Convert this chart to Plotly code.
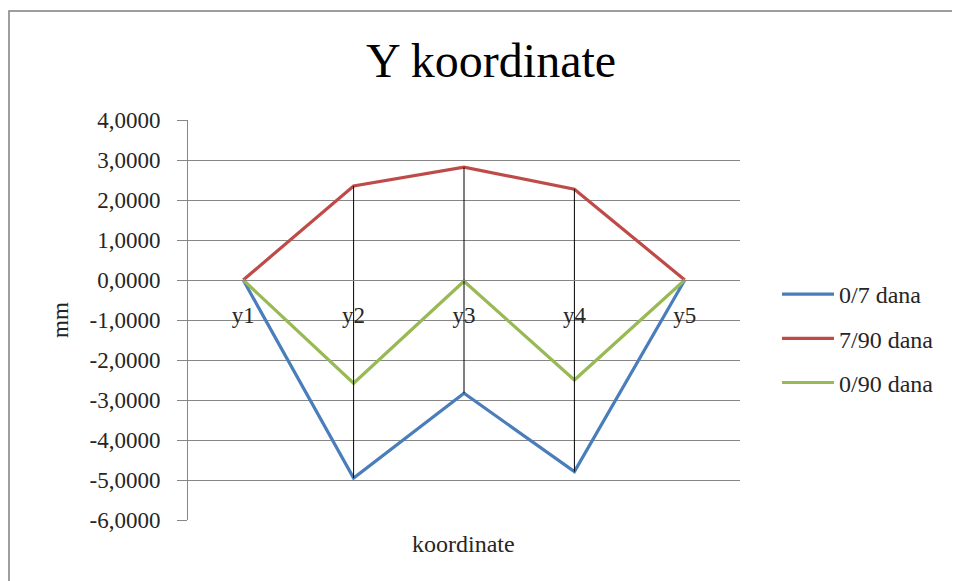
import plotly.graph_objects as go

categories = ["y1", "y2", "y3", "y4", "y5"]
series_names = ["0/7 dana", "7/90 dana", "0/90 dana"]
blue_vals = [0.0, -4.95, -2.83, -4.79, 0.0]
red_vals = [0.0, 2.35, 2.82, 2.27, 0.0]
green_vals = [0.0, -2.58, -0.03, -2.50, 0.0]
y_tickvals = [4, 3, 2, 1, 0, -1, -2, -3, -4, -5, -6]
y_ticktext = ["4,0000", "3,0000", "2,0000", "1,0000", "0,0000", "-1,0000",
              "-2,0000", "-3,0000", "-4,0000", "-5,0000", "-6,0000"]

FONT = "Liberation Serif"
TXT = "#262626"
colors = ["#4A7EBB", "#BE4B48", "#98B954"]

fig = go.Figure()

all_series = [blue_vals, red_vals, green_vals]

for name, vals, col in zip(series_names, all_series, colors):
    fig.add_trace(go.Scatter(x=categories, y=vals, mode="lines", name=name,
                             legendgroup=name,
                             line=dict(color=col, width=3.2)))

# high-low lines (from highest to lowest series value at each category)
for i, c in enumerate(categories):
    vals = [s[i] for s in all_series]
    hi, lo = max(vals), min(vals)
    if hi != lo:
        fig.add_trace(go.Scatter(x=[c, c], y=[hi, lo], mode="lines",
                                 line=dict(color="black", width=1),
                                 showlegend=False, hoverinfo="skip"))

OFF = 8  # page body margin
W, H = 960, 581
L, T = 188 - OFF, 120 - OFF
pw, ph = 552, 400
R = W - L - pw
B = H - T - ph

def sx(X):  # screen x -> paper x
    return (X - OFF - L) / pw

def sy(Y):  # screen y -> paper y
    return (T + ph - (Y - OFF)) / ph

fig.update_layout(
    width=W, height=H,
    margin=dict(l=L, r=R, t=T, b=B),
    paper_bgcolor="white", plot_bgcolor="white",
    font=dict(family=FONT, color=TXT, size=23),
    title=dict(text="Y koordinate", x=(491 - OFF) / W, xanchor="center",
               y=1 - (60 - OFF) / H, yanchor="middle",
               font=dict(family=FONT, size=48, color="black")),
    showlegend=True,
    legend=dict(x=sx(777), y=sy(272), xanchor="left", yanchor="top",
                font=dict(family=FONT, size=24, color=TXT),
                itemwidth=52, tracegroupgap=10, bgcolor="rgba(0,0,0,0)"),
    xaxis=dict(type="category", categoryorder="array", categoryarray=categories,
               range=[-0.5, 4.5], anchor="free", position=0.6,
               showline=True, linecolor="#868686", linewidth=1,
               showgrid=False, ticks="", ticklabelstandoff=14,
               tickfont=dict(family=FONT, size=23, color=TXT)),
    yaxis=dict(range=[-6, 4], tickvals=y_tickvals, ticktext=y_ticktext,
               showgrid=True, gridcolor="#868686", gridwidth=1,
               showline=True, linecolor="#868686", linewidth=1,
               ticks="outside", ticklen=10, tickcolor="#868686",
               ticklabelstandoff=12, zeroline=False,
               tickfont=dict(family=FONT, size=23, color=TXT)),
    shapes=[dict(type="rect", xref="paper", yref="paper",
                 x0=sx(9), x1=sx(975), y0=sy(600), y1=sy(11),
                 line=dict(color="#7F7F7F", width=1.5), layer="below")],
    annotations=[
        dict(text="koordinate", xref="paper", yref="paper",
             x=sx(463), y=sy(544), xanchor="center", yanchor="middle",
             showarrow=False, font=dict(family=FONT, size=24, color=TXT)),
        dict(text="mm", xref="paper", yref="paper", textangle=-90,
             x=sx(60), y=sy(320), xanchor="center", yanchor="middle",
             showarrow=False, font=dict(family=FONT, size=23, color=TXT)),
    ],
)

fig.write_html("out.html")
